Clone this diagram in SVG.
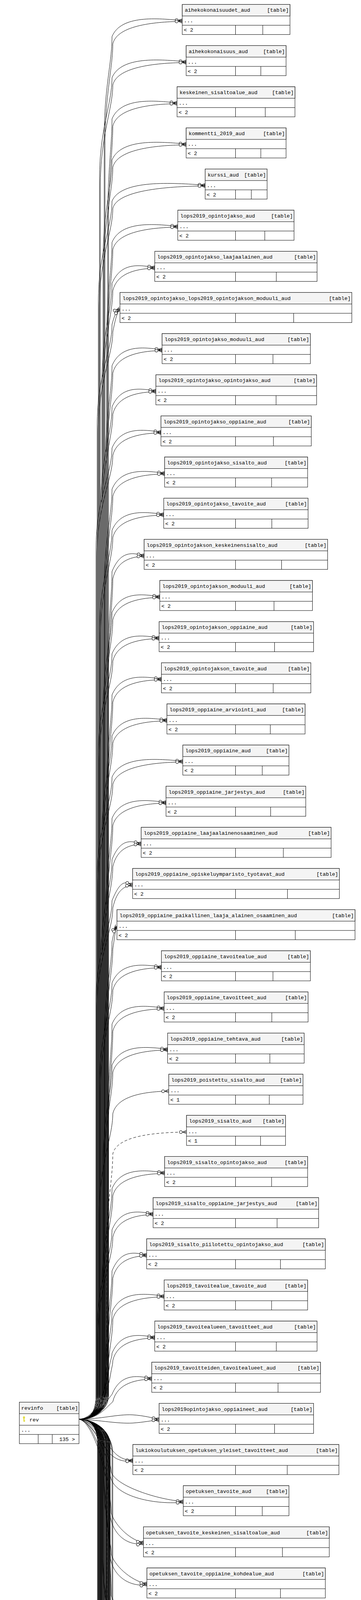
<svg xmlns="http://www.w3.org/2000/svg" width="925" height="7820" viewBox="0 0 925 7820">
<style>
text{font-family:"Liberation Mono","DejaVu Sans Mono",monospace;font-size:13.3px;fill:#000}
.r{text-anchor:end}
.h{fill:#f4f4f4;stroke:#000;stroke-width:1}
.b{fill:#fff;stroke:#000;stroke-width:1}
.l{fill:none;stroke:#000;stroke-width:1}
#edges path{fill:none;stroke:#000;stroke-width:1;marker-end:url(#cf)}
#edges path.d{stroke-dasharray:7,5}
</style>
<defs>
<marker id="cf" markerUnits="userSpaceOnUse" markerWidth="22" markerHeight="12" refX="21" refY="6" orient="auto" overflow="visible">
<path d="M11,6L21,1.5M11,6L21,6M11,6L21,10.5M3,6H11" fill="none" stroke="#000" stroke-width="1"/>
<circle cx="6.5" cy="6" r="3.6" fill="#fff" stroke="#000" stroke-width="1"/>
</marker>
<g id="key"><circle cx="0" cy="2.5" r="2.5"/><rect x="-1" y="4" width="2" height="9.5"/><rect x="1" y="10" width="1.8" height="1.2"/><rect x="1" y="12.2" width="1.8" height="1.2"/><circle cx="0" cy="2.5" r="0.9" fill="#fff"/></g>
</defs>
<rect width="925" height="7820" fill="#fff"/>
<g id="edges">
<path d="M202,3633C235,3633 267,3610 267,3570L267,352.7c0,-130 20,-190 20,-259c23,-56 117,-47 180,-41"/>
<path d="M202,3633C236,3634 269,3612 269,3572L269,372.7c0,-130 20,-200 20,-260c11,-50 115.7,-57 178,-58"/>
<path d="M202,3633C235,3633 255,3610 255,3570L255,458c0,-130 32,-190 32,-259c23,-56 123.5,-47 190,-41"/>
<path d="M202,3633C236,3634 257,3612 257,3572L257,478c0,-130 32,-200 32,-260c11,-50 122.2,-57 188,-58"/>
<path d="M202,3633C235,3633 276,3610 276,3570L276,563.4c0,-130 11,-190 11,-259c23,-56 108.4,-47 166.7,-41"/>
<path d="M202,3633C236,3634 278,3612 278,3572L278,583.4c0,-130 11,-200 11,-260c11,-50 107.1,-57 164.7,-58"/>
<path d="M202,3633C235,3633 264,3610 264,3570L264,668.7c0,-130 23,-190 23,-259c23,-56 123.5,-47 190,-41"/>
<path d="M202,3633C236,3634 266,3612 266,3572L266,688.7c0,-130 23,-200 23,-260c11,-50 122.2,-57 188,-58"/>
<path d="M202,3633C235,3633 252,3610 252,3570L252,774c0,-130 35,-190 35,-259c23,-56 155.2,-47 238.7,-41"/>
<path d="M202,3633C236,3634 254,3612 254,3572L254,794c0,-130 35,-200 35,-260c11,-50 153.9,-57 236.7,-58"/>
<path d="M202,3633C235,3633 273,3610 273,3570L273,879.4c0,-130 14,-190 14,-259c23,-56 109.5,-47 168.5,-41"/>
<path d="M202,3633C236,3634 275,3612 275,3572L275,899.4c0,-130 14,-200 14,-260c11,-50 108.2,-57 166.5,-58"/>
<path d="M202,3633C235,3633 261,3610 261,3570L261,984.7c0,-130 26,-190 26,-259c23,-56 71.2,-47 109.5,-41"/>
<path d="M202,3633C236,3634 263,3612 263,3572L263,1004.7c0,-130 26,-200 26,-260c11,-50 69.9,-57 107.5,-58"/>
<path d="M202,3633C235,3633 249,3610 249,3570L249,1090c0,-130 38,-190 38,-259c5,-20 12,-38 20.4,-41"/>
<path d="M202,3633C236,3634 251,3612 251,3572L251,1110c0,-130 38,-200 38,-260c5,-25 10,-50 18.4,-58"/>
<path d="M202,3633C235,3633 270,3610 270,3570L270,1195.3c0,-130 17,-190 17,-259c23,-56 83.4,-47 128.3,-41"/>
<path d="M202,3633C236,3634 272,3612 272,3572L272,1215.3c0,-130 17,-200 17,-260c11,-50 82.1,-57 126.3,-58"/>
<path d="M202,3633C235,3633 258,3610 258,3570L258,1300.7c0,-130 29,-190 29,-259c23,-56 73.1,-47 112.4,-41"/>
<path d="M202,3633C236,3634 260,3612 260,3572L260,1320.7c0,-130 29,-200 29,-260c11,-50 71.8,-57 110.4,-58"/>
<path d="M202,3633C235,3633 246,3610 246,3570L246,1406c0,-130 41,-190 41,-259c23,-56 81.5,-47 125.4,-41"/>
<path d="M202,3633C236,3634 248,3612 248,3572L248,1426c0,-130 41,-200 41,-260c11,-50 80.2,-57 123.4,-58"/>
<path d="M202,3633C235,3633 267,3610 267,3570L267,1511.3c0,-130 20,-190 20,-259c23,-56 87.6,-47 134.8,-41"/>
<path d="M202,3633C236,3634 269,3612 269,3572L269,1531.3c0,-130 20,-200 20,-260c11,-50 86.3,-57 132.8,-58"/>
<path d="M202,3633C235,3633 255,3610 255,3570L255,1616.7c0,-130 32,-190 32,-259c23,-56 86.1,-47 132.5,-41"/>
<path d="M202,3633C236,3634 257,3612 257,3572L257,1636.7c0,-130 32,-200 32,-260c11,-50 84.8,-57 130.5,-58"/>
<path d="M202,3633C235,3633 276,3610 276,3570L276,1722c0,-130 11,-190 11,-259c23,-56 53.5,-47 82.3,-41"/>
<path d="M202,3633C236,3634 278,3612 278,3572L278,1742c0,-130 11,-200 11,-260c11,-50 52.2,-57 80.3,-58"/>
<path d="M202,3633C235,3633 264,3610 264,3570L264,1827.3c0,-130 23,-190 23,-259c23,-56 79.6,-47 122.4,-41"/>
<path d="M202,3633C236,3634 266,3612 266,3572L266,1847.3c0,-130 23,-200 23,-260c11,-50 78.3,-57 120.4,-58"/>
<path d="M202,3633C235,3633 252,3610 252,3570L252,1932.7c0,-130 35,-190 35,-259c23,-56 78.5,-47 120.7,-41"/>
<path d="M202,3633C236,3634 254,3612 254,3572L254,1952.7c0,-130 35,-200 35,-260c11,-50 77.2,-57 118.7,-58"/>
<path d="M202,3633C235,3633 273,3610 273,3570L273,2038c0,-130 14,-190 14,-259c23,-56 82.3,-47 126.6,-41"/>
<path d="M202,3633C236,3634 275,3612 275,3572L275,2058c0,-130 14,-200 14,-260c11,-50 81,-57 124.6,-58"/>
<path d="M202,3633C235,3633 261,3610 261,3570L261,2143.3c0,-130 26,-190 26,-259c23,-56 91.5,-47 140.7,-41"/>
<path d="M202,3633C236,3634 263,3612 263,3572L263,2163.3c0,-130 26,-200 26,-260c11,-50 90.2,-57 138.7,-58"/>
<path d="M202,3633C235,3633 249,3610 249,3570L249,2248.6c0,-130 38,-190 38,-259c23,-56 117.9,-47 181.4,-41"/>
<path d="M202,3633C236,3634 251,3612 251,3572L251,2268.6c0,-130 38,-200 38,-260c11,-50 116.6,-57 179.4,-58"/>
<path d="M202,3633C235,3633 270,3610 270,3570L270,2354c0,-130 17,-190 17,-259c23,-56 90,-47 138.4,-41"/>
<path d="M202,3633C236,3634 272,3612 272,3572L272,2374c0,-130 17,-200 17,-260c11,-50 88.7,-57 136.4,-58"/>
<path d="M202,3633C235,3633 258,3610 258,3570L258,2459.3c0,-130 29,-190 29,-259c23,-56 48.6,-47 74.7,-41"/>
<path d="M202,3633C236,3634 260,3612 260,3572L260,2479.3c0,-130 29,-200 29,-260c11,-50 47.3,-57 72.7,-58"/>
<path d="M202,3633C235,3633 246,3610 246,3570L246,2564.6c0,-130 41,-190 41,-259c23,-56 34.3,-47 52.8,-41"/>
<path d="M202,3633C236,3634 248,3612 248,3572L248,2584.6c0,-130 41,-200 41,-260c11,-50 33,-57 50.8,-58"/>
<path d="M202,3633C235,3633 267,3610 267,3570L267,2670c0,-130 20,-190 20,-259c4,-20 8,-36 12.7,-41"/>
<path d="M202,3633C236,3634 269,3612 269,3572L269,2690c0,-130 20,-200 20,-260c4,-25 6,-50 10.7,-58"/>
<path d="M202,3633C235,3633 255,3610 255,3570L255,2775.3c0,-130 32,-190 32,-259c23,-56 82.3,-47 126.6,-41"/>
<path d="M202,3633C236,3634 257,3612 257,3572L257,2795.3c0,-130 32,-200 32,-260c11,-50 81,-57 124.6,-58"/>
<path d="M202,3633C235,3633 276,3610 276,3570L276,2880.6c0,-130 11,-190 11,-259c23,-56 86.8,-47 133.6,-41"/>
<path d="M202,3633C236,3634 278,3612 278,3572L278,2900.6c0,-130 11,-200 11,-260c11,-50 85.5,-57 131.6,-58"/>
<path d="M202,3633C235,3633 264,3610 264,3570L264,2986c0,-130 23,-190 23,-259c23,-56 92.6,-47 142.5,-41"/>
<path d="M202,3633C236,3634 266,3612 266,3572L266,3006c0,-130 23,-200 23,-260c11,-50 91.3,-57 140.5,-58"/>
<path d="M202,3633C236,3634 254,3612 254,3572L254,3111.3c0,-130 35,-200 35,-260c11,-50 93.2,-57 143.4,-58"/>
<path class="d" d="M202,3633C235,3633 273,3610 273,3570L273,3200c0,-120 16,-180 16,-246c11,-50 122.8,-55 188.9,-56"/>
<path d="M202,3633C235,3633 261,3610 261,3570L261,3301.9c0,-130 26,-190 26,-259c23,-56 87.6,-47 134.8,-41"/>
<path d="M202,3633C236,3634 263,3612 263,3572L263,3321.9c0,-130 26,-200 26,-260c11,-50 86.3,-57 132.8,-58"/>
<path d="M202,3633C235,3633 249,3610 249,3570L249,3407.3c0,-130 38,-190 38,-259c23,-56 68.4,-47 105.3,-41"/>
<path d="M202,3633C236,3634 251,3612 251,3572L251,3427.3c0,-130 38,-200 38,-260c11,-50 67.1,-57 103.3,-58"/>
<path d="M202,3633C235,3633 270,3610 270,3570L270,3512.6c0,-130 17,-190 17,-259c23,-56 57.7,-47 88.8,-41"/>
<path d="M202,3633C236,3634 272,3612 272,3572L272,3532.6c0,-130 17,-200 17,-260c11,-50 56.4,-57 86.8,-58"/>
<path d="M202,3633C240,3633 265,3600 270,3530C275,3440 287,3400 287,3358.9c23,-56 86.8,-47 133.6,-41"/>
<path d="M202,3633C242,3634 268,3605 273,3540C278,3460 289,3420 289,3377.9c11,-50 85.5,-57 131.6,-58"/>
<path d="M202,3633C245,3633 272,3560 280,3500C283,3480 287,3475 287,3464.3c23,-56 71.2,-47 109.5,-41"/>
<path d="M202,3633C248,3634 275,3570 283,3520C286,3500 289,3495 289,3483.3c11,-50 69.9,-57 107.5,-58"/>
<path d="M202,3633C250,3630 270,3590 287,3569.6c23,-56 66.2,-47 101.8,-41"/>
<path d="M202,3633C250,3636 275,3600 289,3588.6c11,-50 65,-57 99.8,-58"/>
<path d="M202,3633C260,3633 300,3620 340,3622C370,3624 390,3630 407.7,3633"/>
<path d="M202,3633C260,3636 300,3645 340,3643C370,3641 390,3636 407.7,3635.5"/>
<path d="M202,3633C250,3640 270,3700 300,3725C315,3736 325,3738 340.4,3738.3"/>
<path d="M202,3633C245,3645 262,3710 292,3730C310,3742 325,3741 340.4,3740.3"/>
<path d="M202,3633C240,3638 278,3700 285,3768.6c12,36 120,71 184.6,75"/>
<path d="M202,3633C238,3640 276,3720 283,3780.6c12,54 121.3,72 186.6,65"/>
<path d="M202,3633C238,3636 280,3750 285,3873.9c12,36 53.7,71 82.6,75"/>
<path d="M202,3633C236,3638 278,3760 283,3885.9c12,54 55,72 84.6,65"/>
<path d="M202,3633C235,3633 265,3656 265,3696L265,3755.2c0,130 20,190 20,224c12,36 59.4,71 91.4,75"/>
<path d="M202,3633C236,3634 267,3658 267,3698L267,3745.2c0,130 16,200 16,246c12,54 60.7,72 93.4,65"/>
<path d="M202,3633C235,3633 280,3656 280,3696L280,3860.6c0,130 5,190 5,224c12,36 59.4,71 91.4,75"/>
<path d="M202,3633C236,3634 282,3658 282,3698L282,3850.6c0,130 1,200 1,246c12,54 60.7,72 93.4,65"/>
<path d="M202,3633C235,3633 262,3656 262,3696L262,3965.9c0,130 23,190 23,224c12,36 74.4,71 114.4,75"/>
<path d="M202,3633C236,3634 264,3658 264,3698L264,3955.9c0,130 19,200 19,246c12,54 75.7,72 116.4,65"/>
<path d="M202,3633C235,3633 277,3656 277,3696L277,4071.2c0,130 8,190 8,224c12,36 117.3,71 180.5,75"/>
<path d="M202,3633C236,3634 279,3658 279,3698L279,4061.2c0,130 4,200 4,246c12,54 118.6,72 182.5,65"/>
<path d="M202,3633C235,3633 259,3656 259,3696L259,4176.6c0,130 26,190 26,224c12,36 75.9,71 116.8,75"/>
<path d="M202,3633C236,3634 261,3658 261,3698L261,4166.6c0,130 22,200 22,246c12,54 77.2,72 118.8,65"/>
<path d="M202,3633C235,3633 274,3656 274,3696L274,4281.9c0,130 11,190 11,224c12,36 73.2,71 112.6,75"/>
<path d="M202,3633C236,3634 276,3658 276,3698L276,4271.9c0,130 7,200 7,246c12,54 74.5,72 114.6,65"/>
<path d="M202,3633C235,3633 256,3656 256,3696L256,4387.2c0,130 29,190 29,224c12,36 103.9,71 159.8,75"/>
<path d="M202,3633C236,3634 258,3658 258,3698L258,4377.2c0,130 25,200 25,246c12,54 105.2,72 161.8,65"/>
<path d="M202,3633C235,3633 271,3656 271,3696L271,4492.6c0,130 14,190 14,224c12,36 75.9,71 116.8,75"/>
<path d="M202,3633C236,3634 273,3658 273,3698L273,4482.6c0,130 10,200 10,246c12,54 77.2,72 118.8,65"/>
<path d="M202,3633C235,3633 253,3656 253,3696L253,4597.9c0,130 32,190 32,224c12,36 83.6,71 128.6,75"/>
<path d="M202,3633C236,3634 255,3658 255,3698L255,4587.9c0,130 28,200 28,246c12,54 84.9,72 130.6,65"/>
<path d="M202,3633C235,3633 268,3656 268,3696L268,4703.2c0,130 17,190 17,224c12,36 148.8,71 228.9,75"/>
<path d="M202,3633C236,3634 270,3658 270,3698L270,4693.2c0,130 13,200 13,246c12,54 150.1,72 230.9,65"/>
<path d="M202,3633C235,3633 250,3656 250,3696L250,4808.5c0,130 35,190 35,224c12,36 116.2,71 178.7,75"/>
<path d="M202,3633C236,3634 252,3658 252,3698L252,4798.5c0,130 31,200 31,246c12,54 117.5,72 180.7,65"/>
<path d="M202,3633C235,3633 265,3656 265,3696L265,4913.9c0,130 20,190 20,224c12,36 114.3,71 175.8,75"/>
<path d="M202,3633C236,3634 267,3658 267,3698L267,4903.9c0,130 16,200 16,246c12,54 115.6,72 177.8,65"/>
<path d="M202,3633C235,3633 280,3656 280,3696L280,5019.2c0,130 5,190 5,224c12,36 88.1,71 135.6,75"/>
<path d="M202,3633C236,3634 282,3658 282,3698L282,5009.2c0,130 1,200 1,246c12,54 89.4,72 137.6,65"/>
<path d="M202,3633C235,3633 262,3656 262,3696L262,5124.5c0,130 23,190 23,224c12,36 109.7,71 168.7,75"/>
<path d="M202,3633C236,3634 264,3658 264,3698L264,5114.5c0,130 19,200 19,246c12,54 111,72 170.7,65"/>
<path d="M202,3633C235,3633 277,3656 277,3696L277,5229.9c0,130 8,190 8,224c12,36 123.8,71 190.5,75"/>
<path d="M202,3633C236,3634 279,3658 279,3698L279,5219.9c0,130 4,200 4,246c12,54 125.1,72 192.5,65"/>
<path d="M202,3633C235,3633 259,3656 259,3696L259,5335.2c0,130 26,190 26,224c12,36 53.7,71 82.6,75"/>
<path d="M202,3633C236,3634 261,3658 261,3698L261,5325.2c0,130 22,200 22,246c12,54 55,72 84.6,65"/>
<path d="M202,3633C235,3633 274,3656 274,3696L274,5440.5c0,130 11,190 11,224c12,36 106.2,71 163.4,75"/>
<path d="M202,3633C236,3634 276,3658 276,3698L276,5430.5c0,130 7,200 7,246c12,54 107.5,72 165.4,65"/>
<path d="M202,3633C235,3633 256,3656 256,3696L256,5545.9c0,130 29,190 29,224c12,36 39.5,71 60.7,75"/>
<path d="M202,3633C236,3634 258,3658 258,3698L258,5535.9c0,130 25,200 25,246c12,54 40.8,72 62.7,65"/>
<path d="M202,3633C235,3633 271,3656 271,3696L271,5651.2c0,130 14,190 14,224c12,36 49.9,71 76.7,75"/>
<path d="M202,3633C236,3634 273,3658 273,3698L273,5641.2c0,130 10,200 10,246c12,54 51.2,72 78.7,65"/>
<path d="M202,3633C235,3633 253,3656 253,3696L253,5756.5c0,130 32,190 32,224c12,36 135.7,71 208.8,75"/>
<path d="M202,3633C235,3633 268,3656 268,3696L268,5861.8c0,130 17,190 17,224c12,36 90.1,71 138.6,75"/>
<path d="M202,3633C235,3633 250,3656 250,3696L250,5967.2c0,130 35,190 35,224c12,36 66.7,71 102.6,75"/>
<path d="M202,3633C236,3634 252,3658 252,3698L252,5957.2c0,130 31,200 31,246c12,54 68,72 104.6,65"/>
<path d="M202,3633C235,3633 265,3656 265,3696L265,6072.5c0,130 20,190 20,224c12,36 110.8,71 170.5,75"/>
<path d="M202,3633C236,3634 267,3658 267,3698L267,6062.5c0,130 16,200 16,246c12,54 112.1,72 172.5,65"/>
<path d="M202,3633C235,3633 280,3656 280,3696L280,6177.8c0,130 5,190 5,224c12,36 116.9,71 179.9,75"/>
<path d="M202,3633C236,3634 282,3658 282,3698L282,6167.8c0,130 1,200 1,246c12,54 118.2,72 181.9,65"/>
<path d="M202,3633C235,3633 262,3656 262,3696L262,6283.2c0,130 23,190 23,224c12,36 134.2,71 206.4,75"/>
<path d="M202,3633C236,3634 264,3658 264,3698L264,6273.2c0,130 19,200 19,246c12,54 135.5,72 208.4,65"/>
<path d="M202,3633C235,3633 277,3656 277,3696L277,6388.5c0,130 8,190 8,224c12,36 121.2,71 186.4,75"/>
<path d="M202,3633C236,3634 279,3658 279,3698L279,6378.5c0,130 4,200 4,246c12,54 122.5,72 188.4,65"/>
<path d="M202,3633C235,3633 259,3656 259,3696L259,6493.8c0,130 26,190 26,224c12,36 147.2,71 226.5,75"/>
<path d="M202,3633C236,3634 261,3658 261,3698L261,6483.8c0,130 22,200 22,246c12,54 148.5,72 228.5,65"/>
<path class="d" d="M202,3633C236,3634 274,3658 274,3698L274,6700C274,6780 285,6840 310,6865C340,6893 380,6900 528.6,6899.2"/>
<path d="M202,3633C235,3633 256,3656 256,3696L256,6704.5c0,130 29,190 29,224c12,36 126.5,71 194.6,75"/>
<path d="M202,3633C236,3634 258,3658 258,3698L258,6694.5c0,130 25,200 25,246c12,54 127.8,72 196.6,65"/>
<path d="M202,3633C235,3633 271,3656 271,3696L271,6809.8c0,130 14,190 14,224c12,36 107,71 164.6,75"/>
<path d="M202,3633C236,3634 273,3658 273,3698L273,6799.8c0,130 10,200 10,246c12,54 108.3,72 166.6,65"/>
<path d="M202,3633C235,3633 253,3656 253,3696L253,6915.1c0,130 32,190 32,224c12,36 132.3,71 203.5,75"/>
<path d="M202,3633C236,3634 255,3658 255,3698L255,6905.1c0,130 28,200 28,246c12,54 133.6,72 205.5,65"/>
<path d="M202,3633C236,3634 287,3660 287,3720L287,7300C287,7400 296,7460 305,7480C318,7508 345,7526 384,7530.5"/>
<path d="M202,3633C237,3635 289,3662 289,3722L289,7470C290,7520 300,7550 318,7568C335,7584 355,7588 384,7589"/>
<path class="d" d="M234.2,7541.9C250,7540 270,7525 285,7500C305,7465 315,7400 340,7370C355,7356 370,7355.3 384,7355.3"/>
<path d="M234.2,7541.9C255,7542 268,7555 269,7590L270,7640C272,7660 280,7668 290,7678C315,7705 360,7728 410,7729L524.5,7729.5"/>
</g>
<g id="revinfo">
<rect class="b" x="49.6" y="3589.6" width="152.8" height="106.2"/>
<rect class="h" x="49.6" y="3589.6" width="152.8" height="29.4"/>
<path class="l" d="M49.6,3648.6H202.4M49.6,3672.2H202.4M97.9,3672.2V3695.8M133.9,3672.2V3695.8"/>
<text x="54.5" y="3608.5">revinfo</text><text class="r" x="200" y="3608.5">[table]</text>
<use href="#key" x="61.4" y="3626" fill="#d8d000"/>
<text x="75.5" y="3638.5">rev</text>
<text x="54" y="3665">...</text>
<text class="r" x="192" y="3689">135 &gt;</text>
</g>
<g id="aihekokonaisuudet_aud" transform="translate(467,11.4)"><rect class="b" width="276" height="77"/><rect class="h" width="276" height="29.5"/><path class="l" d="M0,53.3H276M136.5,53.3V77M206.3,53.3V77"/><text x="6.5" y="19">aihekokonaisuudet_aud</text><text class="r" x="273" y="19">[table]</text><text x="4" y="46">...</text><text x="4" y="70">&lt; 2</text></g>
<g id="aihekokonaisuus_aud" transform="translate(477,116.7)"><rect class="b" width="256" height="77"/><rect class="h" width="256" height="29.5"/><path class="l" d="M0,53.3H256M126.5,53.3V77M191.3,53.3V77"/><text x="6.5" y="19">aihekokonaisuus_aud</text><text class="r" x="253" y="19">[table]</text><text x="4" y="46">...</text><text x="4" y="70">&lt; 2</text></g>
<g id="keskeinen_sisaltoalue_aud" transform="translate(453.7,222.1)"><rect class="b" width="302.1" height="77"/><rect class="h" width="302.1" height="29.5"/><path class="l" d="M0,53.3H302.1M149.8,53.3V77M226,53.3V77"/><text x="6.5" y="19">keskeinen_sisaltoalue_aud</text><text class="r" x="299.1" y="19">[table]</text><text x="4" y="46">...</text><text x="4" y="70">&lt; 2</text></g>
<g id="kommentti_2019_aud" transform="translate(477,327.4)"><rect class="b" width="256" height="77"/><rect class="h" width="256" height="29.5"/><path class="l" d="M0,53.3H256M126.5,53.3V77M191.3,53.3V77"/><text x="6.5" y="19">kommentti_2019_aud</text><text class="r" x="253" y="19">[table]</text><text x="4" y="46">...</text><text x="4" y="70">&lt; 2</text></g>
<g id="kurssi_aud" transform="translate(525.7,432.7)"><rect class="b" width="158.7" height="77"/><rect class="h" width="158.7" height="29.5"/><path class="l" d="M0,53.3H158.7M77.8,53.3V77M118.3,53.3V77"/><text x="6.5" y="19">kurssi_aud</text><text class="r" x="155.7" y="19">[table]</text><text x="4" y="46">...</text><text x="4" y="70">&lt; 2</text></g>
<g id="lops2019_opintojakso_aud" transform="translate(455.5,538.1)"><rect class="b" width="297.9" height="77"/><rect class="h" width="297.9" height="29.5"/><path class="l" d="M0,53.3H297.9M148,53.3V77M223,53.3V77"/><text x="6.5" y="19">lops2019_opintojakso_aud</text><text class="r" x="294.9" y="19">[table]</text><text x="4" y="46">...</text><text x="4" y="70">&lt; 2</text></g>
<g id="lops2019_opintojakso_laajaalainen_aud" transform="translate(396.5,643.4)"><rect class="b" width="415.9" height="77"/><rect class="h" width="415.9" height="29.5"/><path class="l" d="M0,53.3H415.9M207,53.3V77M311.5,53.3V77"/><text x="6.5" y="19">lops2019_opintojakso_laajaalainen_aud</text><text class="r" x="412.9" y="19">[table]</text><text x="4" y="46">...</text><text x="4" y="70">&lt; 2</text></g>
<g id="lops2019_opintojakso_lops2019_opintojakson_moduuli_aud" transform="translate(307.4,748.7)"><rect class="b" width="594.1" height="77"/><rect class="h" width="594.1" height="29.5"/><path class="l" d="M0,53.3H594.1M296.1,53.3V77M445.1,53.3V77"/><text x="6.5" y="19">lops2019_opintojakso_lops2019_opintojakson_moduuli_aud</text><text class="r" x="591.1" y="19">[table]</text><text x="4" y="46">...</text><text x="4" y="70">&lt; 2</text></g>
<g id="lops2019_opintojakso_moduuli_aud" transform="translate(415.3,854)"><rect class="b" width="380" height="77"/><rect class="h" width="380" height="29.5"/><path class="l" d="M0,53.3H380M188.2,53.3V77M284.1,53.3V77"/><text x="6.5" y="19">lops2019_opintojakso_moduuli_aud</text><text class="r" x="377" y="19">[table]</text><text x="4" y="46">...</text><text x="4" y="70">&lt; 2</text></g>
<g id="lops2019_opintojakso_opintojakso_aud" transform="translate(399.4,959.4)"><rect class="b" width="411.8" height="77"/><rect class="h" width="411.8" height="29.5"/><path class="l" d="M0,53.3H411.8M204.1,53.3V77M308,53.3V77"/><text x="6.5" y="19">lops2019_opintojakso_opintojakso_aud</text><text class="r" x="408.8" y="19">[table]</text><text x="4" y="46">...</text><text x="4" y="70">&lt; 2</text></g>
<g id="lops2019_opintojakso_oppiaine_aud" transform="translate(412.4,1064.7)"><rect class="b" width="385.2" height="77"/><rect class="h" width="385.2" height="29.5"/><path class="l" d="M0,53.3H385.2M191.1,53.3V77M288.2,53.3V77"/><text x="6.5" y="19">lops2019_opintojakso_oppiaine_aud</text><text class="r" x="382.2" y="19">[table]</text><text x="4" y="46">...</text><text x="4" y="70">&lt; 2</text></g>
<g id="lops2019_opintojakso_sisalto_aud" transform="translate(421.8,1170)"><rect class="b" width="366.4" height="77"/><rect class="h" width="366.4" height="29.5"/><path class="l" d="M0,53.3H366.4M181.7,53.3V77M274.1,53.3V77"/><text x="6.5" y="19">lops2019_opintojakso_sisalto_aud</text><text class="r" x="363.4" y="19">[table]</text><text x="4" y="46">...</text><text x="4" y="70">&lt; 2</text></g>
<g id="lops2019_opintojakso_tavoite_aud" transform="translate(419.5,1275.4)"><rect class="b" width="369.9" height="77"/><rect class="h" width="369.9" height="29.5"/><path class="l" d="M0,53.3H369.9M184,53.3V77M277,53.3V77"/><text x="6.5" y="19">lops2019_opintojakso_tavoite_aud</text><text class="r" x="366.9" y="19">[table]</text><text x="4" y="46">...</text><text x="4" y="70">&lt; 2</text></g>
<g id="lops2019_opintojakson_keskeinensisalto_aud" transform="translate(369.3,1380.7)"><rect class="b" width="470.2" height="77"/><rect class="h" width="470.2" height="29.5"/><path class="l" d="M0,53.3H470.2M234.2,53.3V77M352.2,53.3V77"/><text x="6.5" y="19">lops2019_opintojakson_keskeinensisalto_aud</text><text class="r" x="467.2" y="19">[table]</text><text x="4" y="46">...</text><text x="4" y="70">&lt; 2</text></g>
<g id="lops2019_opintojakson_moduuli_aud" transform="translate(409.4,1486)"><rect class="b" width="391.2" height="77"/><rect class="h" width="391.2" height="29.5"/><path class="l" d="M0,53.3H391.2M194.1,53.3V77M292.7,53.3V77"/><text x="6.5" y="19">lops2019_opintojakson_moduuli_aud</text><text class="r" x="388.2" y="19">[table]</text><text x="4" y="46">...</text><text x="4" y="70">&lt; 2</text></g>
<g id="lops2019_opintojakson_oppiaine_aud" transform="translate(407.7,1591.4)"><rect class="b" width="395.8" height="77"/><rect class="h" width="395.8" height="29.5"/><path class="l" d="M0,53.3H395.8M195.8,53.3V77M295.8,53.3V77"/><text x="6.5" y="19">lops2019_opintojakson_oppiaine_aud</text><text class="r" x="392.8" y="19">[table]</text><text x="4" y="46">...</text><text x="4" y="70">&lt; 2</text></g>
<g id="lops2019_opintojakson_tavoite_aud" transform="translate(413.6,1696.7)"><rect class="b" width="382.9" height="77"/><rect class="h" width="382.9" height="29.5"/><path class="l" d="M0,53.3H382.9M189.9,53.3V77M286.4,53.3V77"/><text x="6.5" y="19">lops2019_opintojakson_tavoite_aud</text><text class="r" x="379.9" y="19">[table]</text><text x="4" y="46">...</text><text x="4" y="70">&lt; 2</text></g>
<g id="lops2019_oppiaine_arviointi_aud" transform="translate(427.7,1802)"><rect class="b" width="354" height="77"/><rect class="h" width="354" height="29.5"/><path class="l" d="M0,53.3H354M175.8,53.3V77M264.9,53.3V77"/><text x="6.5" y="19">lops2019_oppiaine_arviointi_aud</text><text class="r" x="351" y="19">[table]</text><text x="4" y="46">...</text><text x="4" y="70">&lt; 2</text></g>
<g id="lops2019_oppiaine_aud" transform="translate(468.4,1907.3)"><rect class="b" width="272" height="77"/><rect class="h" width="272" height="29.5"/><path class="l" d="M0,53.3H272M135.1,53.3V77M203.6,53.3V77"/><text x="6.5" y="19">lops2019_oppiaine_aud</text><text class="r" x="269" y="19">[table]</text><text x="4" y="46">...</text><text x="4" y="70">&lt; 2</text></g>
<g id="lops2019_oppiaine_jarjestys_aud" transform="translate(425.4,2012.7)"><rect class="b" width="358.1" height="77"/><rect class="h" width="358.1" height="29.5"/><path class="l" d="M0,53.3H358.1M178.1,53.3V77M268.1,53.3V77"/><text x="6.5" y="19">lops2019_oppiaine_jarjestys_aud</text><text class="r" x="355.1" y="19">[table]</text><text x="4" y="46">...</text><text x="4" y="70">&lt; 2</text></g>
<g id="lops2019_oppiaine_laajaalainenosaaminen_aud" transform="translate(361.7,2118)"><rect class="b" width="486.7" height="77"/><rect class="h" width="486.7" height="29.5"/><path class="l" d="M0,53.3H486.7M241.8,53.3V77M364.3,53.3V77"/><text x="6.5" y="19">lops2019_oppiaine_laajaalainenosaaminen_aud</text><text class="r" x="483.7" y="19">[table]</text><text x="4" y="46">...</text><text x="4" y="70">&lt; 2</text></g>
<g id="lops2019_oppiaine_opiskeluymparisto_tyotavat_aud" transform="translate(339.8,2223.3)"><rect class="b" width="529.8" height="77"/><rect class="h" width="529.8" height="29.5"/><path class="l" d="M0,53.3H529.8M263.7,53.3V77M396.8,53.3V77"/><text x="6.5" y="19">lops2019_oppiaine_opiskeluymparisto_tyotavat_aud</text><text class="r" x="526.8" y="19">[table]</text><text x="4" y="46">...</text><text x="4" y="70">&lt; 2</text></g>
<g id="lops2019_oppiaine_paikallinen_laaja_alainen_osaaminen_aud" transform="translate(299.7,2328.7)"><rect class="b" width="610" height="77"/><rect class="h" width="610" height="29.5"/><path class="l" d="M0,53.3H610M303.8,53.3V77M456.9,53.3V77"/><text x="6.5" y="19">lops2019_oppiaine_paikallinen_laaja_alainen_osaaminen_aud</text><text class="r" x="607" y="19">[table]</text><text x="4" y="46">...</text><text x="4" y="70">&lt; 2</text></g>
<g id="lops2019_oppiaine_tavoitealue_aud" transform="translate(413.6,2434)"><rect class="b" width="381.7" height="77"/><rect class="h" width="381.7" height="29.5"/><path class="l" d="M0,53.3H381.7M189.9,53.3V77M285.8,53.3V77"/><text x="6.5" y="19">lops2019_oppiaine_tavoitealue_aud</text><text class="r" x="378.7" y="19">[table]</text><text x="4" y="46">...</text><text x="4" y="70">&lt; 2</text></g>
<g id="lops2019_oppiaine_tavoitteet_aud" transform="translate(420.6,2539.3)"><rect class="b" width="368.8" height="77"/><rect class="h" width="368.8" height="29.5"/><path class="l" d="M0,53.3H368.8M182.9,53.3V77M275.9,53.3V77"/><text x="6.5" y="19">lops2019_oppiaine_tavoitteet_aud</text><text class="r" x="365.8" y="19">[table]</text><text x="4" y="46">...</text><text x="4" y="70">&lt; 2</text></g>
<g id="lops2019_oppiaine_tehtava_aud" transform="translate(429.5,2644.7)"><rect class="b" width="349.9" height="77"/><rect class="h" width="349.9" height="29.5"/><path class="l" d="M0,53.3H349.9M174,53.3V77M262,53.3V77"/><text x="6.5" y="19">lops2019_oppiaine_tehtava_aud</text><text class="r" x="346.9" y="19">[table]</text><text x="4" y="46">...</text><text x="4" y="70">&lt; 2</text></g>
<g id="lops2019_poistettu_sisalto_aud" transform="translate(432.4,2750)"><rect class="b" width="344" height="77"/><rect class="h" width="344" height="29.5"/><path class="l" d="M0,53.3H344M171.1,53.3V77M257.6,53.3V77"/><text x="6.5" y="19">lops2019_poistettu_sisalto_aud</text><text class="r" x="341" y="19">[table]</text><text x="4" y="46">...</text><text x="4" y="70">&lt; 1</text></g>
<g id="lops2019_sisalto_aud" transform="translate(477.9,2855.3)"><rect class="b" width="253.7" height="77"/><rect class="h" width="253.7" height="29.5"/><path class="l" d="M0,53.3H253.7M125.6,53.3V77M189.7,53.3V77"/><text x="6.5" y="19">lops2019_sisalto_aud</text><text class="r" x="250.7" y="19">[table]</text><text x="4" y="46">...</text><text x="4" y="70">&lt; 1</text></g>
<g id="lops2019_sisalto_opintojakso_aud" transform="translate(421.8,2960.6)"><rect class="b" width="366.4" height="77"/><rect class="h" width="366.4" height="29.5"/><path class="l" d="M0,53.3H366.4M181.7,53.3V77M274.1,53.3V77"/><text x="6.5" y="19">lops2019_sisalto_opintojakso_aud</text><text class="r" x="363.4" y="19">[table]</text><text x="4" y="46">...</text><text x="4" y="70">&lt; 2</text></g>
<g id="lops2019_sisalto_oppiaine_jarjestys_aud" transform="translate(392.3,3066)"><rect class="b" width="424.2" height="77"/><rect class="h" width="424.2" height="29.5"/><path class="l" d="M0,53.3H424.2M211.2,53.3V77M317.7,53.3V77"/><text x="6.5" y="19">lops2019_sisalto_oppiaine_jarjestys_aud</text><text class="r" x="421.2" y="19">[table]</text><text x="4" y="46">...</text><text x="4" y="70">&lt; 2</text></g>
<g id="lops2019_sisalto_piilotettu_opintojakso_aud" transform="translate(375.8,3171.3)"><rect class="b" width="457.8" height="77"/><rect class="h" width="457.8" height="29.5"/><path class="l" d="M0,53.3H457.8M227.7,53.3V77M342.8,53.3V77"/><text x="6.5" y="19">lops2019_sisalto_piilotettu_opintojakso_aud</text><text class="r" x="454.8" y="19">[table]</text><text x="4" y="46">...</text><text x="4" y="70">&lt; 2</text></g>
<g id="lops2019_tavoitealue_tavoite_aud" transform="translate(420.6,3276.6)"><rect class="b" width="367.6" height="77"/><rect class="h" width="367.6" height="29.5"/><path class="l" d="M0,53.3H367.6M182.9,53.3V77M275.3,53.3V77"/><text x="6.5" y="19">lops2019_tavoitealue_tavoite_aud</text><text class="r" x="364.6" y="19">[table]</text><text x="4" y="46">...</text><text x="4" y="70">&lt; 2</text></g>
<g id="lops2019_tavoitealueen_tavoitteet_aud" transform="translate(396.5,3382)"><rect class="b" width="415.9" height="77"/><rect class="h" width="415.9" height="29.5"/><path class="l" d="M0,53.3H415.9M207,53.3V77M311.5,53.3V77"/><text x="6.5" y="19">lops2019_tavoitealueen_tavoitteet_aud</text><text class="r" x="412.9" y="19">[table]</text><text x="4" y="46">...</text><text x="4" y="70">&lt; 2</text></g>
<g id="lops2019_tavoitteiden_tavoitealueet_aud" transform="translate(388.8,3487.3)"><rect class="b" width="432.4" height="77"/><rect class="h" width="432.4" height="29.5"/><path class="l" d="M0,53.3H432.4M214.7,53.3V77M323.6,53.3V77"/><text x="6.5" y="19">lops2019_tavoitteiden_tavoitealueet_aud</text><text class="r" x="429.4" y="19">[table]</text><text x="4" y="46">...</text><text x="4" y="70">&lt; 2</text></g>
<g id="lops2019opintojakso_oppiaineet_aud" transform="translate(407.7,3592.6)"><rect class="b" width="395.8" height="77"/><rect class="h" width="395.8" height="29.5"/><path class="l" d="M0,53.3H395.8M195.8,53.3V77M295.8,53.3V77"/><text x="6.5" y="19">lops2019opintojakso_oppiaineet_aud</text><text class="r" x="392.8" y="19">[table]</text><text x="4" y="46">...</text><text x="4" y="70">&lt; 2</text></g>
<g id="lukiokoulutuksen_opetuksen_yleiset_tavoitteet_aud" transform="translate(340.4,3698)"><rect class="b" width="528" height="77"/><rect class="h" width="528" height="29.5"/><path class="l" d="M0,53.3H528M263.1,53.3V77M395.6,53.3V77"/><text x="6.5" y="19">lukiokoulutuksen_opetuksen_yleiset_tavoitteet_aud</text><text class="r" x="525" y="19">[table]</text><text x="4" y="46">...</text><text x="4" y="70">&lt; 2</text></g>
<g id="opetuksen_tavoite_aud" transform="translate(469.6,3803.3)"><rect class="b" width="270.8" height="77"/><rect class="h" width="270.8" height="29.5"/><path class="l" d="M0,53.3H270.8M133.9,53.3V77M202.4,53.3V77"/><text x="6.5" y="19">opetuksen_tavoite_aud</text><text class="r" x="267.8" y="19">[table]</text><text x="4" y="46">...</text><text x="4" y="70">&lt; 2</text></g>
<g id="opetuksen_tavoite_keskeinen_sisaltoalue_aud" transform="translate(367.6,3908.6)"><rect class="b" width="476.1" height="77"/><rect class="h" width="476.1" height="29.5"/><path class="l" d="M0,53.3H476.1M235.9,53.3V77M356,53.3V77"/><text x="6.5" y="19">opetuksen_tavoite_keskeinen_sisaltoalue_aud</text><text class="r" x="473.1" y="19">[table]</text><text x="4" y="46">...</text><text x="4" y="70">&lt; 2</text></g>
<g id="opetuksen_tavoite_oppiaine_kohdealue_aud" transform="translate(376.4,4013.9)"><rect class="b" width="457.2" height="77"/><rect class="h" width="457.2" height="29.5"/><path class="l" d="M0,53.3H457.2M227.1,53.3V77M342.2,53.3V77"/><text x="6.5" y="19">opetuksen_tavoite_oppiaine_kohdealue_aud</text><text class="r" x="454.2" y="19">[table]</text><text x="4" y="46">...</text><text x="4" y="70">&lt; 2</text></g>
<g id="opetuksen_tavoite_tavoitteen_arviointi_aud" transform="translate(376.4,4119.3)"><rect class="b" width="456" height="77"/><rect class="h" width="456" height="29.5"/><path class="l" d="M0,53.3H456M227.1,53.3V77M341.6,53.3V77"/><text x="6.5" y="19">opetuksen_tavoite_tavoitteen_arviointi_aud</text><text class="r" x="453" y="19">[table]</text><text x="4" y="46">...</text><text x="4" y="70">&lt; 2</text></g>
<g id="opetuksentavoite_laajattavoitteet_aud" transform="translate(399.4,4224.6)"><rect class="b" width="410" height="77"/><rect class="h" width="410" height="29.5"/><path class="l" d="M0,53.3H410M204.1,53.3V77M307.1,53.3V77"/><text x="6.5" y="19">opetuksentavoite_laajattavoitteet_aud</text><text class="r" x="407" y="19">[table]</text><text x="4" y="46">...</text><text x="4" y="70">&lt; 2</text></g>
<g id="opetussuunnitelma_aud" transform="translate(465.5,4329.9)"><rect class="b" width="277.9" height="77"/><rect class="h" width="277.9" height="29.5"/><path class="l" d="M0,53.3H277.9M138,53.3V77M208,53.3V77"/><text x="6.5" y="19">opetussuunnitelma_aud</text><text class="r" x="274.9" y="19">[table]</text><text x="4" y="46">...</text><text x="4" y="70">&lt; 2</text></g>
<g id="opetussuunnitelma_julkaisukielet_aud" transform="translate(401.8,4435.3)"><rect class="b" width="406.5" height="77"/><rect class="h" width="406.5" height="29.5"/><path class="l" d="M0,53.3H406.5M201.7,53.3V77M304.1,53.3V77"/><text x="6.5" y="19">opetussuunnitelma_julkaisukielet_aud</text><text class="r" x="403.5" y="19">[table]</text><text x="4" y="46">...</text><text x="4" y="70">&lt; 2</text></g>
<g id="opetussuunnitelma_koodistokoodi_aud" transform="translate(397.6,4540.6)"><rect class="b" width="413.6" height="77"/><rect class="h" width="413.6" height="29.5"/><path class="l" d="M0,53.3H413.6M205.9,53.3V77M309.8,53.3V77"/><text x="6.5" y="19">opetussuunnitelma_koodistokoodi_aud</text><text class="r" x="410.6" y="19">[table]</text><text x="4" y="46">...</text><text x="4" y="70">&lt; 2</text></g>
<g id="opetussuunnitelma_liite_aud" transform="translate(444.8,4645.9)"><rect class="b" width="319.8" height="77"/><rect class="h" width="319.8" height="29.5"/><path class="l" d="M0,53.3H319.8M158.7,53.3V77M239.3,53.3V77"/><text x="6.5" y="19">opetussuunnitelma_liite_aud</text><text class="r" x="316.8" y="19">[table]</text><text x="4" y="46">...</text><text x="4" y="70">&lt; 2</text></g>
<g id="opetussuunnitelma_organisaatiot_aud" transform="translate(401.8,4751.3)"><rect class="b" width="406.5" height="77"/><rect class="h" width="406.5" height="29.5"/><path class="l" d="M0,53.3H406.5M201.7,53.3V77M304.1,53.3V77"/><text x="6.5" y="19">opetussuunnitelma_organisaatiot_aud</text><text class="r" x="403.5" y="19">[table]</text><text x="4" y="46">...</text><text x="4" y="70">&lt; 2</text></g>
<g id="opetussuunnitelman_aikataulu_aud" transform="translate(413.6,4856.6)"><rect class="b" width="381.7" height="77"/><rect class="h" width="381.7" height="29.5"/><path class="l" d="M0,53.3H381.7M189.9,53.3V77M285.8,53.3V77"/><text x="6.5" y="19">opetussuunnitelman_aikataulu_aud</text><text class="r" x="378.7" y="19">[table]</text><text x="4" y="46">...</text><text x="4" y="70">&lt; 2</text></g>
<g id="oppiaine_aud" transform="translate(513.9,4961.9)"><rect class="b" width="181.7" height="77"/><rect class="h" width="181.7" height="29.5"/><path class="l" d="M0,53.3H181.7M89.6,53.3V77M135.7,53.3V77"/><text x="6.5" y="19">oppiaine_aud</text><text class="r" x="178.7" y="19">[table]</text><text x="4" y="46">...</text><text x="4" y="70">&lt; 2</text></g>
<g id="oppiaine_kohdealue_aud" transform="translate(463.7,5067.2)"><rect class="b" width="283.8" height="77"/><rect class="h" width="283.8" height="29.5"/><path class="l" d="M0,53.3H283.8M139.8,53.3V77M211.8,53.3V77"/><text x="6.5" y="19">oppiaine_kohdealue_aud</text><text class="r" x="280.8" y="19">[table]</text><text x="4" y="46">...</text><text x="4" y="70">&lt; 2</text></g>
<g id="oppiaine_lukiokurssi_aud" transform="translate(460.8,5172.6)"><rect class="b" width="287.9" height="77"/><rect class="h" width="287.9" height="29.5"/><path class="l" d="M0,53.3H287.9M142.7,53.3V77M215.3,53.3V77"/><text x="6.5" y="19">oppiaine_lukiokurssi_aud</text><text class="r" x="284.9" y="19">[table]</text><text x="4" y="46">...</text><text x="4" y="70">&lt; 2</text></g>
<g id="oppiaine_oppiaine_kohdealue_aud" transform="translate(420.6,5277.9)"><rect class="b" width="368.8" height="77"/><rect class="h" width="368.8" height="29.5"/><path class="l" d="M0,53.3H368.8M182.9,53.3V77M275.9,53.3V77"/><text x="6.5" y="19">oppiaine_oppiaine_kohdealue_aud</text><text class="r" x="365.8" y="19">[table]</text><text x="4" y="46">...</text><text x="4" y="70">&lt; 2</text></g>
<g id="oppiaine_vapaatekstit_aud" transform="translate(453.7,5383.2)"><rect class="b" width="302.6" height="77"/><rect class="h" width="302.6" height="29.5"/><path class="l" d="M0,53.3H302.6M149.8,53.3V77M226.2,53.3V77"/><text x="6.5" y="19">oppiaine_vapaatekstit_aud</text><text class="r" x="299.6" y="19">[table]</text><text x="4" y="46">...</text><text x="4" y="70">&lt; 2</text></g>
<g id="oppiaineen_vlkok_aud" transform="translate(475.5,5488.6)"><rect class="b" width="260.2" height="77"/><rect class="h" width="260.2" height="29.5"/><path class="l" d="M0,53.3H260.2M128,53.3V77M194.1,53.3V77"/><text x="6.5" y="19">oppiaineen_vlkok_aud</text><text class="r" x="257.2" y="19">[table]</text><text x="4" y="46">...</text><text x="4" y="70">&lt; 2</text></g>
<g id="oppiaineen_vlkok_oppiaineenvuosiluokka_aud" transform="translate(367.6,5593.9)"><rect class="b" width="476.1" height="77"/><rect class="h" width="476.1" height="29.5"/><path class="l" d="M0,53.3H476.1M235.9,53.3V77M356,53.3V77"/><text x="6.5" y="19">oppiaineen_vlkok_oppiaineenvuosiluokka_aud</text><text class="r" x="473.1" y="19">[table]</text><text x="4" y="46">...</text><text x="4" y="70">&lt; 2</text></g>
<g id="oppiaineenvuosiluokka_aud" transform="translate(448.4,5699.2)"><rect class="b" width="312.1" height="77"/><rect class="h" width="312.1" height="29.5"/><path class="l" d="M0,53.3H312.1M155.1,53.3V77M233.6,53.3V77"/><text x="6.5" y="19">oppiaineenvuosiluokka_aud</text><text class="r" x="309.1" y="19">[table]</text><text x="4" y="46">...</text><text x="4" y="70">&lt; 2</text></g>
<g id="oppiaineenvuosiluokka_keskeinen_sisaltoalue_aud" transform="translate(345.7,5804.6)"><rect class="b" width="518" height="77"/><rect class="h" width="518" height="29.5"/><path class="l" d="M0,53.3H518M257.8,53.3V77M387.9,53.3V77"/><text x="6.5" y="19">oppiaineenvuosiluokka_keskeinen_sisaltoalue_aud</text><text class="r" x="515" y="19">[table]</text><text x="4" y="46">...</text><text x="4" y="70">&lt; 2</text></g>
<g id="oppiaineenvuosiluokka_opetuksen_tavoite_aud" transform="translate(361.7,5909.9)"><rect class="b" width="486.7" height="77"/><rect class="h" width="486.7" height="29.5"/><path class="l" d="M0,53.3H486.7M241.8,53.3V77M364.3,53.3V77"/><text x="6.5" y="19">oppiaineenvuosiluokka_opetuksen_tavoite_aud</text><text class="r" x="483.7" y="19">[table]</text><text x="4" y="46">...</text><text x="4" y="70">&lt; 2</text></g>
<g id="ops_oppiaine_aud" transform="translate(493.8,6015.2)"><rect class="b" width="221.8" height="77"/><rect class="h" width="221.8" height="29.5"/><path class="l" d="M0,53.3H221.8M109.7,53.3V77M165.8,53.3V77"/><text x="6.5" y="19">ops_oppiaine_aud</text><text class="r" x="218.8" y="19">[table]</text><text x="4" y="46">...</text><text x="4" y="70">&lt; 1</text></g>
<g id="ops_vuosiluokkakokonaisuus_aud" transform="translate(423.6,6120.5)"><rect class="b" width="364" height="77"/><rect class="h" width="364" height="29.5"/><path class="l" d="M0,53.3H364M179.9,53.3V77M272,53.3V77"/><text x="6.5" y="19">ops_vuosiluokkakokonaisuus_aud</text><text class="r" x="361" y="19">[table]</text><text x="4" y="46">...</text><text x="4" y="70">&lt; 1</text></g>
<g id="paikallinen_laaja_alainen_osaaminen_aud" transform="translate(387.6,6225.9)"><rect class="b" width="433.6" height="77"/><rect class="h" width="433.6" height="29.5"/><path class="l" d="M0,53.3H433.6M215.9,53.3V77M324.8,53.3V77"/><text x="6.5" y="19">paikallinen_laaja_alainen_osaaminen_aud</text><text class="r" x="430.6" y="19">[table]</text><text x="4" y="46">...</text><text x="4" y="70">&lt; 2</text></g>
<g id="poistettu_opintojakso_aud" transform="translate(455.5,6331.2)"><rect class="b" width="300.3" height="77"/><rect class="h" width="300.3" height="29.5"/><path class="l" d="M0,53.3H300.3M148,53.3V77M224.2,53.3V77"/><text x="6.5" y="19">poistettu_opintojakso_aud</text><text class="r" x="297.3" y="19">[table]</text><text x="4" y="46">...</text><text x="4" y="70">&lt; 2</text></g>
<g id="tavoitteen_arviointi_aud" transform="translate(464.9,6436.5)"><rect class="b" width="280.8" height="77"/><rect class="h" width="280.8" height="29.5"/><path class="l" d="M0,53.3H280.8M138.6,53.3V77M209.7,53.3V77"/><text x="6.5" y="19">tavoitteen_arviointi_aud</text><text class="r" x="277.8" y="19">[table]</text><text x="4" y="46">...</text><text x="4" y="70">&lt; 2</text></g>
<g id="tekstikappale_aud" transform="translate(491.4,6541.9)"><rect class="b" width="226" height="77"/><rect class="h" width="226" height="29.5"/><path class="l" d="M0,53.3H226M112.1,53.3V77M169.1,53.3V77"/><text x="6.5" y="19">tekstikappale_aud</text><text class="r" x="223" y="19">[table]</text><text x="4" y="46">...</text><text x="4" y="70">&lt; 2</text></g>
<g id="tekstikappaleviite_aud" transform="translate(471.4,6647.2)"><rect class="b" width="266.1" height="77"/><rect class="h" width="266.1" height="29.5"/><path class="l" d="M0,53.3H266.1M132.1,53.3V77M199.1,53.3V77"/><text x="6.5" y="19">tekstikappaleviite_aud</text><text class="r" x="263.1" y="19">[table]</text><text x="4" y="46">...</text><text x="4" y="70">&lt; 2</text></g>
<g id="tekstiosa_aud" transform="translate(511.5,6752.5)"><rect class="b" width="185.8" height="77"/><rect class="h" width="185.8" height="29.5"/><path class="l" d="M0,53.3H185.8M92,53.3V77M138.9,53.3V77"/><text x="6.5" y="19">tekstiosa_aud</text><text class="r" x="182.8" y="19">[table]</text><text x="4" y="46">...</text><text x="4" y="70">&lt; 2</text></g>
<g id="termi_aud" transform="translate(528.6,6857.9)"><rect class="b" width="151.6" height="77"/><rect class="h" width="151.6" height="29.5"/><path class="l" d="M0,53.3H151.6M74.9,53.3V77M113.3,53.3V77"/><text x="6.5" y="19">termi_aud</text><text class="r" x="148.6" y="19">[table]</text><text x="4" y="46">...</text><text x="4" y="70">&lt; 4</text></g>
<g id="vlk_vapaatekstit_aud" transform="translate(479.6,6963.2)"><rect class="b" width="252" height="77"/><rect class="h" width="252" height="29.5"/><path class="l" d="M0,53.3H252M123.9,53.3V77M188,53.3V77"/><text x="6.5" y="19">vlk_vapaatekstit_aud</text><text class="r" x="249" y="19">[table]</text><text x="4" y="46">...</text><text x="4" y="70">&lt; 2</text></g>
<g id="vlkok_laaja_osaaminen_aud" transform="translate(449.6,7068.5)"><rect class="b" width="309.7" height="77"/><rect class="h" width="309.7" height="29.5"/><path class="l" d="M0,53.3H309.7M153.9,53.3V77M231.8,53.3V77"/><text x="6.5" y="19">vlkok_laaja_osaaminen_aud</text><text class="r" x="306.7" y="19">[table]</text><text x="4" y="46">...</text><text x="4" y="70">&lt; 2</text></g>
<g id="vlkokonaisuus_aud" transform="translate(488.5,7173.8)"><rect class="b" width="231.9" height="77"/><rect class="h" width="231.9" height="29.5"/><path class="l" d="M0,53.3H231.9M115,53.3V77M173.5,53.3V77"/><text x="6.5" y="19">vlkokonaisuus_aud</text><text class="r" x="228.9" y="19">[table]</text><text x="4" y="46">...</text><text x="4" y="70">&lt; 2</text></g>
<g id="lukiokurssi_aud">
<rect x="385.5" y="7279.8" width="436" height="378.2" fill="#fff" stroke="#000" stroke-width="3"/>
<rect x="387" y="7281.3" width="433" height="30.2" fill="#f4f4f4"/>
<path class="l" d="M387,7311.5H820M387,7340.7H820M387,7369.9H820M387,7399.1H820M387,7428.3H820M387,7457.5H820M387,7486.7H820M387,7515.9H820M387,7545.1H820M387,7574.3H820M387,7603.5H820M387,7632.7H820M720.4,7311.5V7658M561.7,7632.7V7658"/>
<text x="393.5" y="7301">lukiokurssi_aud</text><text class="r" x="819.5" y="7301">[table]</text>
<use href="#key" x="400" y="7318" fill="#d8d000"/>
<use href="#key" x="400" y="7347" fill="#a8a8a8"/>
<use href="#key" x="400" y="7522.5" fill="#d8d000"/>
<use href="#key" x="400" y="7581" fill="#a8a8a8"/>
<text x="413" y="7330.7">id</text><text x="724.5" y="7330.7">int8[19]</text>
<text x="413" y="7359.9">tyyppi</text><text x="724.5" y="7359.9">varchar[64]</text>
<text x="413" y="7389.1">lokalisoitava_koodi_id</text><text x="724.5" y="7389.1">int8[19]</text>
<text x="413" y="7418.3">kurssityypin_kuvaus_id</text><text x="724.5" y="7418.3">int8[19]</text>
<text x="413" y="7447.5">tavoitteet_id</text><text x="724.5" y="7447.5">int8[19]</text>
<text x="413" y="7476.7">keskeinen_sisalto_id</text><text x="724.5" y="7476.7">int8[19]</text>
<text x="413" y="7505.9">tavoitteet_ja_keskeinen_sisalto_id</text><text x="724.5" y="7505.9">int8[19]</text>
<text x="413" y="7535.1">rev</text><text x="724.5" y="7535.1">int4[10]</text>
<text x="413" y="7564.3">revtype</text><text x="724.5" y="7564.3">int2[5]</text>
<text x="413" y="7593.5">revend</text><text x="724.5" y="7593.5">int4[10]</text>
<text x="413" y="7622.7">laajuus</text><text x="724.5" y="7622.7">numeric[4,2]</text>
<text x="391" y="7651">&lt; 3</text><text class="r" x="816" y="7651">0 &gt;</text>
</g>
<g id="lukiokurssityyppi">
<rect class="b" x="17.7" y="7497.4" width="216.5" height="107.1"/>
<rect class="h" x="17.7" y="7497.4" width="216.5" height="30"/>
<path class="l" d="M17.7,7556.3H234.2M17.7,7580.4H234.2M107.4,7580.4V7604.5M162.2,7580.4V7604.5"/>
<text x="23" y="7517">lukiokurssityyppi</text><text class="r" x="232" y="7517">[table]</text>
<use href="#key" x="29.5" y="7534" fill="#d8d000"/>
<text x="62" y="7546.5">tyyppi</text>
<text x="22" y="7573">...</text>
<text class="r" x="226" y="7597">2 &gt;</text>
</g>
<g id="lukiokurssi">
<rect class="b" x="524.5" y="7688.3" width="159.9" height="77.1"/>
<rect class="h" x="524.5" y="7688.3" width="159.9" height="29.3"/>
<path class="l" d="M524.5,7741.3H684.4M595.9,7741.3V7765.4M631.9,7741.3V7765.4"/>
<text x="531" y="7707.5">lukiokurssi</text><text class="r" x="682" y="7707.5">[table]</text>
<text x="529" y="7734.5">...</text>
<text x="529" y="7759">&lt; 7</text><text class="r" x="676" y="7759">1 &gt;</text>
</g>
<text x="16.5" y="7808">Generated by SchemaSpy</text>
</svg>
